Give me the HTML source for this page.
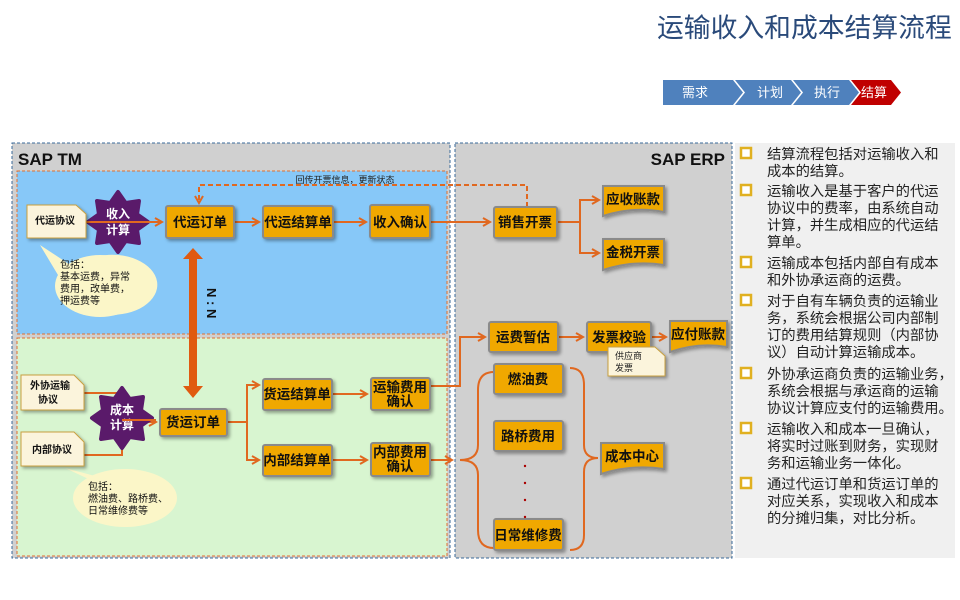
<!DOCTYPE html>
<html><head><meta charset="utf-8"><style>
html,body{margin:0;padding:0;background:#fff;width:960px;height:600px;overflow:hidden}
svg text{font-family:"Liberation Sans","Noto Sans CJK SC",sans-serif}
.b{fill:#f0a800;stroke:#8a8a8a;stroke-width:2}
.t{font-size:13.5px;font-weight:bold;fill:#111;text-anchor:middle}
.l{stroke:#e06820;stroke-width:2;fill:none}
.n{fill:#fbf4dc;stroke:#c8a040;stroke-width:1}
</style></head><body>
<svg width="960" height="600" xmlns="http://www.w3.org/2000/svg">
<defs>
<marker id="a" markerWidth="10" markerHeight="10" refX="8" refY="5" orient="auto" markerUnits="userSpaceOnUse"><path d="M1,1 L8,5 L1,9" fill="none" stroke="#e06820" stroke-width="2"/></marker>
<filter id="s" x="-20%" y="-20%" width="150%" height="160%"><feDropShadow dx="2" dy="2" stdDeviation="1.5" flood-color="#000" flood-opacity="0.35"/></filter>
<polygon id="g" points="30,0 19,7.7 21,21 7.7,19 0,30 -7.7,19 -21,21 -19,7.7 -30,0 -19,-7.7 -21,-21 -7.7,-19 0,-30 7.7,-19 21,-21 19,-7.7" fill="#5a1a6a" stroke="#5a1a6a" stroke-width="4" stroke-linejoin="round"/>
</defs>
<text x="657" y="37" font-size="26.8" fill="#2a4a7a">运输收入和成本结算流程</text>
<polygon points="663,80 733,80 743,92.5 733,105 663,105" fill="#4f81bd"/>
<polygon points="735,80 791,80 801,92.5 791,105 735,105 745,92.5" fill="#4f81bd"/>
<polygon points="793,80 849,80 859,92.5 849,105 793,105 803,92.5" fill="#4f81bd"/>
<polygon points="851,80 891,80 901,92.5 891,105 851,105 861,92.5" fill="#c00000"/>
<g font-size="13" fill="#fff" text-anchor="middle"><text x="695" y="97">需求</text><text x="770" y="97">计划</text><text x="827" y="97">执行</text><text x="874" y="97">结算</text></g>

<rect x="12" y="143" width="438" height="415" fill="#d0d0d0" stroke="#3a6a9a" stroke-dasharray="3,2"/>
<rect x="455" y="143" width="277" height="415" fill="#d0d0d0" stroke="#3a6a9a" stroke-dasharray="3,2"/>
<rect x="735" y="143" width="220" height="415" fill="#f0f0f0"/>
<rect x="17" y="171" width="430" height="163" fill="#87c8f8" stroke="#e07030" stroke-dasharray="3,2"/>
<rect x="17" y="338" width="430" height="218" fill="#d8f5d0" stroke="#e07030" stroke-dasharray="3,2"/>
<text x="18" y="165" font-size="17" font-weight="bold" fill="#111">SAP TM</text>
<text x="725" y="165" font-size="17" font-weight="bold" fill="#111" text-anchor="end">SAP ERP</text>

<path d="M527,207 V185 H199 V203" fill="none" stroke="#e06820" stroke-width="2" stroke-dasharray="5,3" marker-end="url(#a)"/>
<text x="345" y="183" font-size="9" fill="#222" text-anchor="middle">回传开票信息，更新状态</text>

<path d="M40,245 L75,268 A45,30 0 1 1 70,295 Z" fill="#fbf6c8"/>
<ellipse cx="100" cy="286" rx="45" ry="31" fill="#fbf6c8"/>
<text font-size="10" fill="#111"><tspan x="60" y="268">包括：</tspan><tspan x="60" y="280">基本运费，异常</tspan><tspan x="60" y="292">费用，改单费，</tspan><tspan x="60" y="304">押运费等</tspan></text>
<path d="M65,468 L95,482 L110,480 Z" fill="#fbf6c8"/>
<ellipse cx="125" cy="498" rx="52" ry="29" fill="#fbf6c8"/>
<text font-size="10" fill="#111"><tspan x="88" y="490">包括：</tspan><tspan x="88" y="502">燃油费、路桥费、</tspan><tspan x="88" y="514">日常维修费等</tspan></text>

<path class="l" d="M86,222 H162" marker-end="url(#a)"/>
<path class="l" d="M234,222 H259" marker-end="url(#a)"/>
<path class="l" d="M333,222 H366" marker-end="url(#a)"/>
<path class="l" d="M430,222 H490" marker-end="url(#a)"/>
<path class="l" d="M557,222 H580 V200 H599" marker-end="url(#a)"/>
<path class="l" d="M580,222 V253 H599" marker-end="url(#a)"/>
<path class="l" d="M84,393 H122 V422 M84,455 H122 V422 H156" marker-end="url(#a)"/>
<path class="l" d="M227,422 H247 V385 H259" marker-end="url(#a)"/>
<path class="l" d="M247,422 V460 H259" marker-end="url(#a)"/>
<path class="l" d="M332,394 H367" marker-end="url(#a)"/>
<path class="l" d="M332,460 H367" marker-end="url(#a)"/>
<path class="l" d="M430,386 H460 V337 H485" marker-end="url(#a)"/>
<path class="l" d="M558,337 H583" marker-end="url(#a)"/>
<path class="l" d="M651,337 H666" marker-end="url(#a)"/>
<path class="l" d="M430,460 H452" marker-end="url(#a)"/>
<path class="l" d="M494,372 Q478,372 478,390 V445 Q478,460 460,460 Q478,460 478,475 V530 Q478,548 494,548"/>
<path class="l" d="M570,368 Q584,368 584,385 V445 Q584,458 598,458 Q584,458 584,472 V535 Q584,550 570,550"/>

<use href="#g" x="118" y="222"/>
<text x="118" y="218" font-size="12" font-weight="bold" fill="#fff" text-anchor="middle">收入</text>
<text x="118" y="234" font-size="12" font-weight="bold" fill="#fff" text-anchor="middle">计算</text>
<path d="M86,222 H162" class="l"/>
<use href="#g" x="122" y="418"/>
<text x="122" y="414" font-size="12" font-weight="bold" fill="#fff" text-anchor="middle">成本</text>
<text x="122" y="429" font-size="12" font-weight="bold" fill="#fff" text-anchor="middle">计算</text>
<path class="l" d="M122,420 H156"/>

<polygon points="193,248 203,259 197,259 197,386 203,386 193,398 183,386 189,386 189,259 183,259" fill="#e05a10"/>
<text x="0" y="0" font-size="13" font-weight="bold" fill="#111" transform="translate(207,288) rotate(90)">N : N</text>

<g filter="url(#s)">
<path class="n" d="M27,205 H76 L86,214 V238 H27 Z"/>
<path class="n" d="M21,375 H74 L84,385 V410 H21 Z"/>
<path class="n" d="M21,432 H74 L84,442 V466 H21 Z"/>
</g>
<g font-size="10" font-weight="bold" fill="#111" text-anchor="middle">
<text x="55" y="224">代运协议</text>
<text x="50" y="389">外协运输</text><text x="48" y="403">协议</text>
<text x="52" y="453">内部协议</text>
</g>

<g filter="url(#s)">
<rect class="b" x="166" y="206" width="68" height="32" rx="2"/>
<rect class="b" x="263" y="206" width="70" height="32" rx="2"/>
<rect class="b" x="370" y="205" width="60" height="33" rx="2"/>
<rect class="b" x="494" y="207" width="63" height="31" rx="2"/>
<path class="b" d="M603,186 H664 V212 Q634,206 603,216 Z"/>
<path class="b" d="M603,239 H664 V265 Q634,260 603,270 Z"/>
<rect class="b" x="489" y="322" width="69" height="30" rx="2"/>
<rect class="b" x="587" y="322" width="64" height="30" rx="2"/>
<path class="b" d="M670,321 H727 V347 Q698,342 670,352 Z"/>
<rect class="b" x="494" y="364" width="69" height="30" rx="2"/>
<rect class="b" x="494" y="421" width="69" height="30" rx="2"/>
<rect class="b" x="494" y="519" width="69" height="31" rx="2"/>
<path class="b" d="M601,443 H664 V469 Q632,464 601,474 Z"/>
<rect class="b" x="160" y="409" width="67" height="27" rx="2"/>
<rect class="b" x="263" y="379" width="69" height="31" rx="2"/>
<rect class="b" x="371" y="378" width="59" height="32" rx="2"/>
<rect class="b" x="263" y="445" width="69" height="31" rx="2"/>
<rect class="b" x="371" y="443" width="59" height="33" rx="2"/>
<path class="n" d="M608,347 H655 L665,356 V376 H608 Z"/>
</g>
<g>
<text x="200" y="227" class="t">代运订单</text>
<text x="298" y="227" class="t">代运结算单</text>
<text x="400" y="227" class="t">收入确认</text>
<text x="525" y="227" class="t">销售开票</text>
<text x="633" y="204" class="t">应收账款</text>
<text x="633" y="257" class="t">金税开票</text>
<text x="523" y="342" class="t">运费暂估</text>
<text x="619" y="342" class="t">发票校验</text>
<text x="698" y="339" class="t">应付账款</text>
<text x="528" y="384" class="t">燃油费</text>
<text x="528" y="441" class="t">路桥费用</text>
<text x="528" y="540" class="t">日常维修费</text>
<text x="632" y="461" class="t">成本中心</text>
<text x="193" y="427" class="t">货运订单</text>
<text x="297" y="399" class="t">货运结算单</text>
<text x="400" y="392" class="t">运输费用</text><text x="400" y="406" class="t">确认</text>
<text x="297" y="465" class="t">内部结算单</text>
<text x="400" y="457" class="t">内部费用</text><text x="400" y="471" class="t">确认</text>
</g>
<text font-size="9" fill="#222"><tspan x="615" y="359">供应商</tspan><tspan x="615" y="371">发票</tspan></text>
<g fill="#a00"><circle cx="525" cy="466" r="1.2"/><circle cx="525" cy="483" r="1.2"/><circle cx="525" cy="500" r="1.2"/><circle cx="525" cy="517" r="1.2"/></g>

<g font-size="14.3" fill="#222">
<text><tspan x="767" y="159">结算流程包括对运输收入和</tspan><tspan x="767" y="176">成本的结算。</tspan>
<tspan x="767" y="196">运输收入是基于客户的代运</tspan><tspan x="767" y="213">协议中的费率，由系统自动</tspan><tspan x="767" y="230">计算，并生成相应的代运结</tspan><tspan x="767" y="247">算单。</tspan>
<tspan x="767" y="268">运输成本包括内部自有成本</tspan><tspan x="767" y="285">和外协承运商的运费。</tspan>
<tspan x="767" y="306">对于自有车辆负责的运输业</tspan><tspan x="767" y="323">务，系统会根据公司内部制</tspan><tspan x="767" y="340">订的费用结算规则（内部协</tspan><tspan x="767" y="357">议）自动计算运输成本。</tspan>
<tspan x="767" y="379">外协承运商负责的运输业务，</tspan><tspan x="767" y="396">系统会根据与承运商的运输</tspan><tspan x="767" y="413">协议计算应支付的运输费用。</tspan>
<tspan x="767" y="434">运输收入和成本一旦确认，</tspan><tspan x="767" y="451">将实时过账到财务，实现财</tspan><tspan x="767" y="468">务和运输业务一体化。</tspan>
<tspan x="767" y="489">通过代运订单和货运订单的</tspan><tspan x="767" y="506">对应关系，实现收入和成本</tspan><tspan x="767" y="523">的分摊归集，对比分析。</tspan></text>
</g>
<g fill="#fff" stroke="#e0b020" stroke-width="2.5">
<rect x="741" y="148" width="10" height="10"/><rect x="741" y="185" width="10" height="10"/><rect x="741" y="257" width="10" height="10"/><rect x="741" y="295" width="10" height="10"/><rect x="741" y="368" width="10" height="10"/><rect x="741" y="423" width="10" height="10"/><rect x="741" y="478" width="10" height="10"/>
</g>
</svg>
</body></html>
